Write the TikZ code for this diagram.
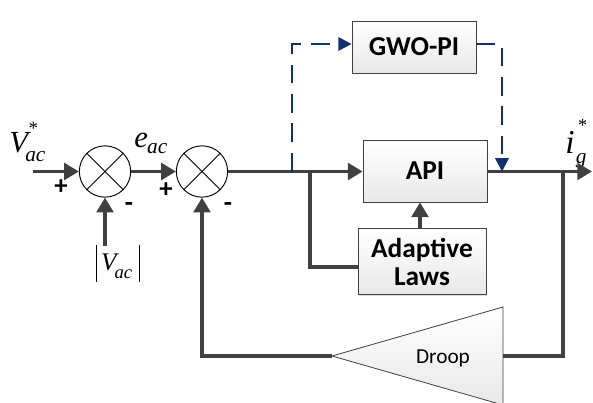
\documentclass[tikz,border=0pt]{standalone}
\usepackage{fontspec}
\setsansfont{Carlito}
\newfontfamily\tms{Liberation Serif}
\usetikzlibrary{arrows.meta,calc,shadows}
\definecolor{ln}{HTML}{404040}
\definecolor{nv}{HTML}{13306E}
\newcommand{\sbs}[2]{\raisebox{#1}{\fontsize{16}{16}\selectfont #2}}
\begin{document}
\begin{tikzpicture}[x=0.75pt,y=-0.75pt,
  sig/.style={draw=ln,line width=2.4pt},
  arr/.style={sig,-{Triangle[length=11pt,width=12.5pt]}},
  dsh/.style={draw=nv,line width=1.8pt,dash pattern=on 14pt off 8pt},
  darr/.style={dsh,-{Triangle[length=10pt,width=10pt]}},
  blk/.style={draw=ln,line width=0.6pt,top color=white,bottom color=gray!18,
    drop shadow={opacity=0.25,shadow xshift=1pt,shadow yshift=-1pt},
    font=\sffamily\bfseries\fontsize{20.5}{23}\selectfont,align=center,inner sep=0pt},
  sumnode/.style={circle,draw=black,line width=0.7pt,fill=white,minimum size=38.5pt,inner sep=0pt},
  pm/.style={font=\sffamily\bfseries\fontsize{20}{20}\selectfont},
  lab/.style={font=\tms\itshape\fontsize{23}{23}\selectfont,inner sep=0pt,anchor=base west}]
\useasboundingbox (0,0) rectangle (593,403);
% nodes
\node[sumnode] (s1) at (105,171.5) {};
\draw[line width=0.7pt] (s1.north west) -- (s1.south east) (s1.north east) -- (s1.south west);
\node[sumnode] (s2) at (202,171.5) {};
\draw[line width=0.7pt] (s2.north west) -- (s2.south east) (s2.north east) -- (s2.south west);
\node[blk,minimum width=93pt,minimum height=46.5pt] (api) at (425,171) {API};
\node[blk,minimum width=93pt,minimum height=39pt] (gwo) at (414,47) {GWO-PI};
\node[blk,minimum width=96pt,minimum height=50pt] (al) at (422,261.5) {Adaptive\\[-2pt]Laws};
% droop triangle
\coordinate (tr) at (503,307);
\coordinate (br) at (503,405);
\coordinate (ap) at (332,356);
\shade[top color=white,bottom color=gray!18,draw=ln,line width=0.6pt] (ap) -- (tr) -- (br) -- cycle;
\node[font=\sffamily\fontsize{16}{16}\selectfont] (droop) at (443,358) {Droop};
% labels
\node[lab] (vref) at (9,152) {V\rlap{\raisebox{13pt}{\fontsize{14}{14}\selectfont *}}\kern-2pt\sbs{-7pt}{ac}};
\node[lab] (eac) at (134,147) {e\kern-0.5pt\sbs{-5pt}{ac}};
\node[lab,font=\tms\itshape\fontsize{19}{19}\selectfont] (vmeas) at (96,270)
  {\rule[-9pt]{0.6pt}{28pt}\kern3pt V\kern-1.5pt\raisebox{-6pt}{\fontsize{14}{14}\selectfont ac}\kern5pt\rule[-9pt]{0.6pt}{28pt}};
\node[lab,font=\tms\itshape\fontsize{25}{25}\selectfont] (ig) at (565,153) {i\rlap{\raisebox{16pt}{\kern2pt\fontsize{14}{14}\selectfont *}}\kern1pt\sbs{-8pt}{g}};
\node[pm] (p1) at (61,187) {+};
\node[pm] (m1) at (129,207) {-};
\node[pm] (p2) at (166,190) {+};
\node[pm] (m2) at (228,207) {-};
% coordinates
\coordinate (in) at (33,171.5);
\coordinate (vm) at (105,246);
\coordinate (out) at (592,171.5);
\coordinate (br1) at (310,171.5);
\coordinate (dbr) at (292,171.5);
\coordinate (dout) at (502,171.5);
\coordinate (fb) at (563,171.5);
% signal connectors
\draw[arr] (in) -- (s1.west);
\draw[arr] (vm) -- (s1.south);
\draw[arr] (s1.east) -- (s2.west);
\draw[arr] (s2.east) -- (api.west |- s2.east);
\draw[arr] (api.east |- out) -- (out);
\draw[arr] (al.north -| 420,0) -- (api.south -| 420,0);
\draw[sig] (br1) |- (al.west |- 0,267);
\draw[sig] (fb) |- (tr |- ap);
\draw[arr] (ap) -| (s2.south);
% dashed connectors
\draw[darr] (dbr) |- (gwo.west |- 0,44);
\draw[darr] (gwo.east |- 0,44) -| (dout);
\end{tikzpicture}
\end{document}
